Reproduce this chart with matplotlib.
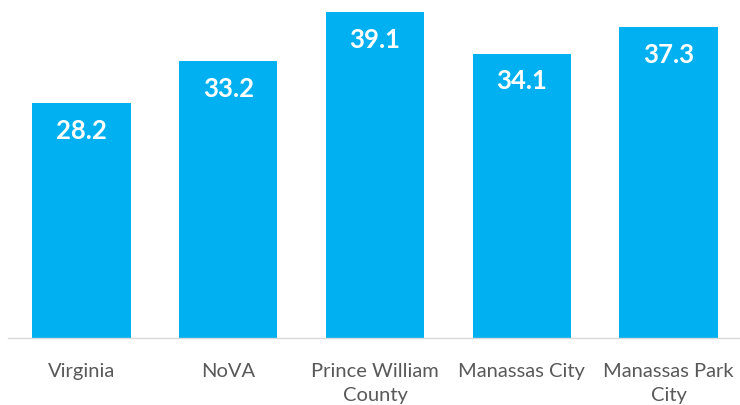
import matplotlib.pyplot as plt

categories = ["Virginia", "NoVA", "Prince William\nCounty", "Manassas City", "Manassas Park\nCity"]
values = [28.2, 33.2, 39.1, 34.1, 37.3]

plt.rcParams['font.family'] = ['Lato', 'DejaVu Sans']

fig = plt.figure(figsize=(7.4, 4.06), dpi=100)
ax = fig.add_axes([8 / 740, 67 / 406, 734 / 740, 339 / 406])

x = range(len(categories))
bars = ax.bar(x, values, width=0.67, color="#00B0F0")

for b, v in zip(bars, values):
    ax.annotate(f"{v:.1f}", (b.get_x() + b.get_width() / 2, v),
                xytext=(0, -19), textcoords="offset points",
                ha="center", va="center", color="white",
                fontsize=18.5, fontweight="bold")

ax.set_xlim(-0.5, len(categories) - 0.5)
ax.set_ylim(0, 40.7)
ax.set_xticks(list(x))
ax.set_xticklabels(categories, color="#595959", fontsize=14.5, linespacing=1.5)
ax.tick_params(axis="x", length=0, pad=17)
ax.set_yticks([])
for s in ["top", "right", "left"]:
    ax.spines[s].set_visible(False)
ax.spines["bottom"].set_color("#D9D9D9")
ax.spines["bottom"].set_linewidth(1)

fig.savefig("out.png", dpi=100)
